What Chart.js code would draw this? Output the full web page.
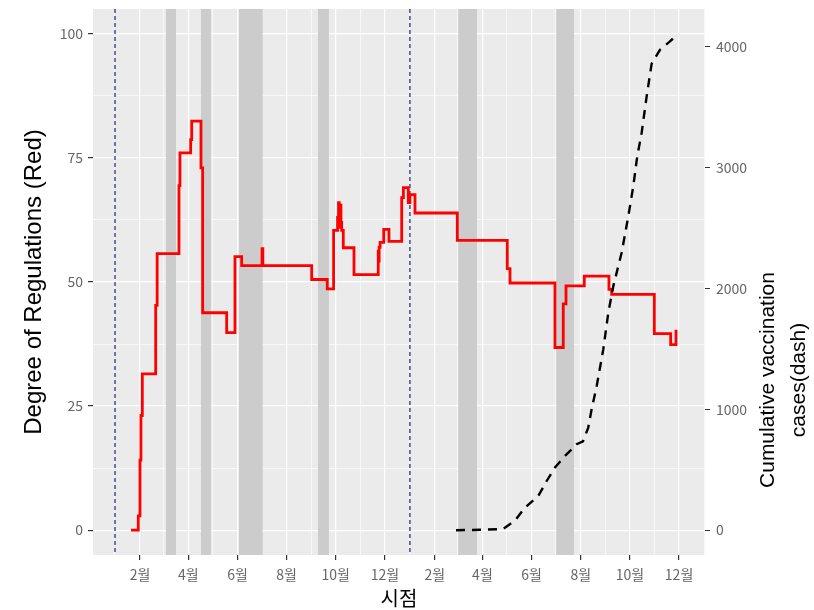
<!DOCTYPE html>
<html><head><meta charset="utf-8">
<script src="https://cdn.jsdelivr.net/npm/chart.js@4.4.1/dist/chart.umd.min.js"></script>
<style>html,body{margin:0;padding:0;background:#fff;}canvas{display:block;}</style>
</head><body>
<canvas id="c" width="814" height="610"></canvas>
<script>
// x values are days since 2020-01-01
const regDays   = [19.8, 28.9, 31, 32.2, 33.9, 50.5, 52.3, 79.4, 80.6, 93.9, 95.2, 106.7, 108.8, 138.6, 148.9, 157.2, 182.5, 183.5, 244.1, 263.4, 271.3, 276.2, 277.4, 278.3, 279.2, 280.4, 281.3, 283.3, 296.6, 326.7, 327.3, 327.8, 329, 333.5, 340, 355.8, 357.9, 364, 366, 372.3, 424.8, 486.8, 490.2, 546, 556.3, 559.7, 582.4, 613, 616.4, 669.3, 689.6, 696.2];
const regValues = [0, 2.9, 14.1, 23.1, 31.5, 45.3, 55.7, 69.4, 76, 78.7, 82.4, 73, 43.8, 39.8, 55.1, 53.3, 56.7, 53.3, 50.5, 48.6, 60.4, 63, 66, 61, 65.5, 62, 60.4, 56.9, 51.5, 56.2, 54.2, 57, 58, 60.6, 58.2, 67, 69, 66, 67.6, 63.9, 58.4, 52.7, 49.8, 36.8, 45.6, 49.2, 51.2, 48.5, 47.5, 39.6, 37.4, 40.4];
const vacDays   = [423.2, 453, 481.5, 496.4, 508.8, 525.3, 535.7, 546, 558.4, 572.9, 580.8, 587.3, 591.5, 597.8, 606, 612.2, 618.4, 628.8, 637, 643.2, 648.1, 653.6, 659.8, 666, 676.3, 688.7, 697.8];
const vacValues = [0, 3, 10, 80, 187, 283, 407, 518, 614, 711, 735, 849, 1000, 1193, 1496, 1800, 2019, 2297, 2597, 2845, 3093, 3289, 3590, 3860, 3975, 4044, 4099];
const bandStarts = [63.3, 106.7, 153.9, 251.9, 426, 547.6];
const bandEnds   = [75.7, 119.1, 183.3, 265.5, 449.2, 569.6];
const markerDays = [0, 366];
const xMajorTicks = [31, 91, 152, 213, 274, 335, 397, 456, 517, 578, 639, 700];
const xTickLabels = ['2월','4월','6월','8월','10월','12월','2월','4월','6월','8월','10월','12월'];
const xMinorTicks = [0, 60, 121, 182, 244, 305, 366, 425, 486, 547, 609, 670, 731];
const yLeftTicks = [0, 25, 50, 75, 100];
const yLeftMinor = [12.5, 37.5, 62.5, 87.5];
const yRightTicks = [0, 1000, 2000, 3000, 4000];
const SEC = 41.07; // secondary axis ratio

const xAll = xMinorTicks.concat(xMajorTicks).sort((a,b)=>a-b);
const yAll = yLeftMinor.concat(yLeftTicks).sort((a,b)=>a-b);
const isXMajor = v => xMajorTicks.indexOf(v) >= 0;
const isYMajor = v => yLeftTicks.indexOf(v) >= 0;

const panelPlugin = {
  id: 'panel',
  beforeDraw(chart) {
    const {ctx, chartArea: a} = chart;
    ctx.save();
    ctx.fillStyle = '#ebebeb';
    ctx.fillRect(a.left, a.top, a.right - a.left, a.bottom - a.top);
    ctx.restore();
  },
  beforeDatasetsDraw(chart) {
    const {ctx, chartArea: a} = chart;
    const x = chart.scales.x;
    ctx.save();
    ctx.fillStyle = '#cccccc';
    bandStarts.forEach((s, i) => {
      const x0 = x.getPixelForValue(s), x1 = x.getPixelForValue(bandEnds[i]);
      ctx.fillRect(x0, a.top, x1 - x0, a.bottom - a.top);
    });
    ctx.strokeStyle = '#1e1e80';
    ctx.lineWidth = 1.2;
    ctx.setLineDash([4, 3]);
    markerDays.forEach(d => {
      const px = x.getPixelForValue(d);
      ctx.beginPath(); ctx.moveTo(px, a.top); ctx.lineTo(px, a.bottom); ctx.stroke();
    });
    ctx.restore();
  },
  afterDraw(chart) {
    const {ctx, chartArea: a} = chart;
    ctx.save();
    ctx.fillStyle = '#000';
    ctx.textAlign = 'center';
    ctx.textBaseline = 'middle';
    ctx.font = '24px "Liberation Sans", Arial, sans-serif';
    ctx.save(); ctx.translate(34, (a.top + a.bottom) / 2); ctx.rotate(-Math.PI / 2);
    ctx.fillText('Degree of Regulations (Red)', 0, 0); ctx.restore();
    ctx.font = '21px "Liberation Sans", Arial, sans-serif';
    ctx.save(); ctx.translate(768, 380); ctx.rotate(-Math.PI / 2);
    ctx.fillText('Cumulative vaccination', 0, 0); ctx.restore();
    ctx.save(); ctx.translate(799, 380); ctx.rotate(-Math.PI / 2);
    ctx.fillText('cases(dash)', 0, 0); ctx.restore();
    ctx.font = '20px "Noto Sans CJK KR", sans-serif';
    ctx.fillText('시점', (a.left + a.right) / 2, 598);
    ctx.restore();
  }
};

const tickFont = {family: '"Noto Sans CJK KR", sans-serif', size: 14};
new Chart(document.getElementById('c'), {
  type: 'line',
  data: {
    datasets: [
      {
        label: 'vaccination',
        data: vacDays.map((d, i) => ({x: d, y: vacValues[i]})),
        yAxisID: 'y2',
        borderColor: '#000000',
        borderWidth: 2.4,
        borderDash: [9, 7],
        pointRadius: 0,
        tension: 0,
        fill: false
      },
      {
        label: 'regulation',
        data: regDays.map((d, i) => ({x: d, y: regValues[i]})),
        yAxisID: 'y',
        borderColor: '#ff0000',
        borderWidth: 2.8,
        stepped: true,
        pointRadius: 0,
        fill: false
      }
    ]
  },
  options: {
    responsive: false,
    animation: false,
    events: [],
    layout: {padding: {top: 9, left: 0, right: 0, bottom: 0}},
    plugins: {legend: {display: false}, tooltip: {enabled: false}},
    scales: {
      x: {
        type: 'linear', min: -27.3, max: 732.2,
        afterBuildTicks: s => { s.ticks = xAll.map(v => ({value: v})); },
        afterFit: s => { s.height = 55; s.paddingLeft = 0; s.paddingRight = 0; },
        border: {display: false},
        grid: {
          color: '#ffffff',
          lineWidth: c => (c.tick && isXMajor(c.tick.value)) ? 1.2 : 0.6,
          tickColor: c => (c.tick && isXMajor(c.tick.value)) ? '#333333' : 'rgba(0,0,0,0)',
          tickLength: 5
        },
        ticks: {
          autoSkip: false, maxRotation: 0, minRotation: 0, padding: 6,
          color: '#666666',
          font: tickFont,
          callback: v => { const i = xMajorTicks.indexOf(v); return i >= 0 ? xTickLabels[i] : ''; }
        }
      },
      y: {
        type: 'linear', position: 'left', min: -5, max: 105,
        afterBuildTicks: s => { s.ticks = yAll.map(v => ({value: v})); },
        afterFit: s => { s.width = 93; s.paddingTop = 0; s.paddingBottom = 0; },
        border: {display: false},
        grid: {
          color: '#ffffff',
          lineWidth: c => (c.tick && isYMajor(c.tick.value)) ? 1.2 : 0.6,
          tickColor: c => (c.tick && isYMajor(c.tick.value)) ? '#333333' : 'rgba(0,0,0,0)',
          tickLength: 5
        },
        ticks: {
          autoSkip: false, padding: 5, color: '#666666', font: tickFont,
          callback: v => isYMajor(v) ? String(v) : ''
        }
      },
      y2: {
        type: 'linear', position: 'right', min: -5 * SEC, max: 105 * SEC,
        afterBuildTicks: s => { s.ticks = yRightTicks.map(v => ({value: v})); },
        afterFit: s => { s.width = 109; s.paddingTop = 0; s.paddingBottom = 0; },
        border: {display: false},
        grid: {drawOnChartArea: false, tickColor: '#333333', tickLength: 5},
        ticks: {autoSkip: false, padding: 6, color: '#666666', font: tickFont, callback: v => String(v)}
      }
    }
  },
  plugins: [panelPlugin]
});
</script>
</body></html>
